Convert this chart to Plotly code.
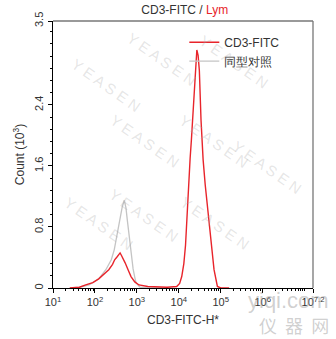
import plotly.graph_objects as go

# Histogram outlines: log10(CD3-FITC-H) vs count (x10^3)
red_log = [1.40, 1.63, 1.78, 1.95, 2.09, 2.20, 2.33, 2.42, 2.47, 2.53, 2.57, 2.60, 2.63, 2.67,
           2.72, 2.79, 2.86, 2.95, 3.05, 3.26, 3.50, 3.72, 3.95, 4.02, 4.07, 4.12, 4.16, 4.20,
           4.23, 4.27, 4.30, 4.34, 4.37, 4.41, 4.43, 4.46, 4.49, 4.53, 4.58, 4.63, 4.69, 4.73,
           4.77, 4.84, 4.92, 5.00, 5.20]
red_val = [0.00, 0.01, 0.04, 0.07, 0.12, 0.17, 0.24, 0.31, 0.37, 0.41, 0.44, 0.46, 0.43, 0.39,
           0.33, 0.24, 0.15, 0.08, 0.04, 0.02, 0.01, 0.01, 0.02, 0.06, 0.15, 0.32, 0.56, 1.00,
           1.41, 1.70, 1.94, 2.30, 2.59, 2.95, 3.12, 3.05, 2.85, 2.20, 1.68, 1.35, 1.02, 0.82,
           0.63, 0.24, 0.02, 0.00, 0.00]

gray_log = [1.40, 1.63, 1.86, 2.09, 2.26, 2.39, 2.46, 2.51, 2.56, 2.60, 2.65, 2.70, 2.74,
            2.77, 2.81, 2.84, 2.88, 2.91, 2.95, 2.98, 3.07, 3.26, 3.60]
gray_val = [0.00, 0.01, 0.04, 0.12, 0.24, 0.37, 0.50, 0.65, 0.80, 0.95, 1.06, 1.15, 1.05,
            0.90, 0.72, 0.55, 0.38, 0.25, 0.14, 0.07, 0.01, 0.00, 0.00]

x_tick_exp = [1, 2, 3, 4, 5, 6, 7.2]
y_tick_vals = [0, 0.8, 1.6, 2.4, 3.5]
y_tick_text = ["0", "0.8", "1.6", "2.4", "3.5"]

fig = go.Figure()
fig.add_trace(go.Scatter(
    x=[10 ** v for v in gray_log], y=gray_val, mode="lines", name="同型对照",
    line=dict(color="#c4c4c4", width=1.3), legendrank=2))
fig.add_trace(go.Scatter(
    x=[10 ** v for v in red_log], y=red_val, mode="lines", name="CD3-FITC",
    line=dict(color="#e8242b", width=1.4), legendrank=1))

font_family = "Liberation Sans, Arial, sans-serif"

fig.update_layout(
    width=336, height=339,
    margin=dict(l=53, r=17, t=21, b=51),
    paper_bgcolor="white", plot_bgcolor="white",
    font=dict(family=font_family, size=11, color="#333333"),
    title=dict(
        text="CD3-FITC / <span style='color:#e8242b'>Lym</span>",
        x=0.55, xanchor="center", y=0.972, yanchor="middle",
        font=dict(size=12, color="#333333")),
    showlegend=True,
    legend=dict(x=0.505, y=0.975, xanchor="left", yanchor="top",
                bgcolor="rgba(0,0,0,0)", font=dict(size=12, color="#333333"),
                tracegroupgap=0, itemwidth=30),
    xaxis=dict(
        type="log", range=[1, 7.2],
        tickmode="array",
        tickvals=[10 ** e for e in x_tick_exp],
        ticktext=["10<sup>%s</sup>" % (int(e) if float(e).is_integer() else e) for e in x_tick_exp],
        ticks="outside", ticklen=4, tickcolor="black", tickwidth=1,
        showline=True, linecolor="black", linewidth=1.3, showgrid=False, zeroline=False,
        minor=dict(ticks="outside", ticklen=2, tickcolor="black", dtick="D1", showgrid=False),
        title=dict(text="CD3-FITC-H*", font=dict(size=12, color="#333333"), standoff=8),
    ),
    yaxis=dict(
        range=[0, 3.5],
        tickmode="array", tickvals=y_tick_vals, ticktext=y_tick_text,
        tickangle=-90,
        ticks="outside", ticklen=4, tickcolor="black", tickwidth=1,
        showline=True, linecolor="black", linewidth=1.3, showgrid=False, zeroline=False,
        minor=dict(ticks="outside", ticklen=2, tickcolor="black", dtick=0.16, tick0=0, showgrid=False),
        title=dict(text="Count (10<sup>3</sup>)", font=dict(size=12, color="#333333"), standoff=6),
    ),
)

# Gray top and right frame edges
fig.add_shape(type="line", xref="paper", yref="paper", x0=0, x1=1, y0=1, y1=1,
              line=dict(color="#777777", width=1.3))
fig.add_shape(type="line", xref="paper", yref="paper", x0=1, x1=1, y0=0, y1=1,
              line=dict(color="#777777", width=1.3))

# Faint diagonal brand watermarks
for (wx, wy) in [(0.05, 0.88), (0.42, 0.98), (0.85, 0.97), (0.2, 0.55), (0.62, 0.55),
                 (0.98, 0.45), (0.35, 0.15), (0.78, 0.12), (0.02, 0.12)]:
    fig.add_annotation(text="Y E A S E N", xref="paper", yref="paper", x=wx, y=wy,
                       showarrow=False, textangle=35,
                       font=dict(size=15, color="rgba(170,170,170,0.3)"))

fig.add_annotation(text="yiqi.com", xref="paper", yref="paper", x=1.07, y=-0.045,
                   xanchor="right", yanchor="middle", showarrow=False,
                   font=dict(size=22, color="rgba(150,150,150,0.45)"))
fig.add_annotation(text="仪  器  网", xref="paper", yref="paper", x=1.07, y=-0.14,
                   xanchor="right", yanchor="middle", showarrow=False,
                   font=dict(size=18, color="rgba(150,150,150,0.45)",
                             family="Noto Sans CJK SC"))

fig.write_html("out.html")
